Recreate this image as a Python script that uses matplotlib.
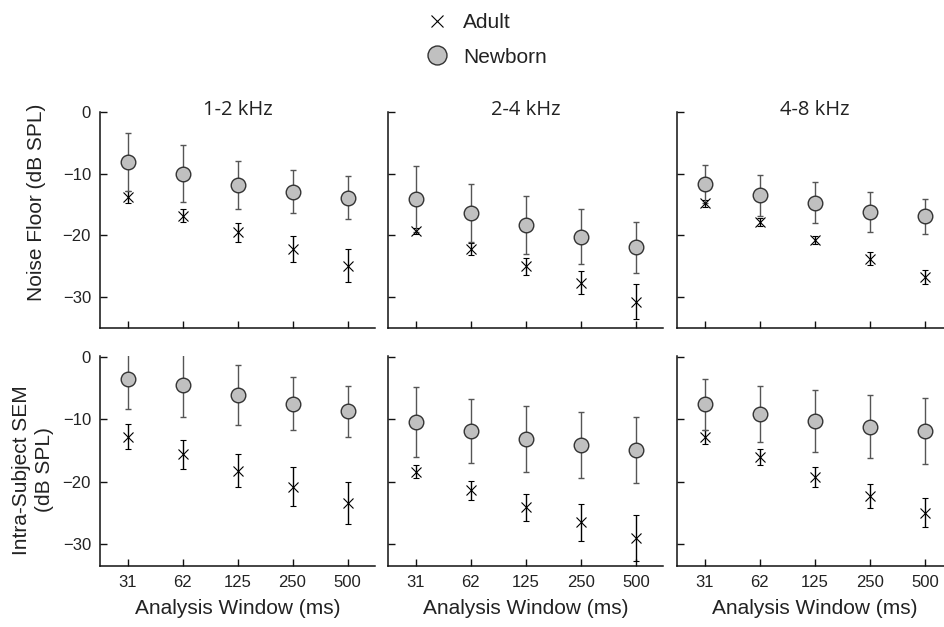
import numpy as np
import matplotlib
matplotlib.use("Agg")
import matplotlib.pyplot as plt

plt.rcParams['font.family'] = ['Liberation Sans', 'DejaVu Sans']

# analysis windows (ms) and frequency bands
windows = ["31", "62", "125", "250", "500"]
bands = ["1-2 kHz", "2-4 kHz", "4-8 kHz"]

# Noise floor (dB SPL): mean and error per band
nf_newborn = [[-8.1, -10.0, -11.8, -12.9, -13.9],
              [-14.1, -16.4, -18.3, -20.2, -21.9],
              [-11.7, -13.5, -14.7, -16.2, -16.9]]
nf_newborn_err = [[4.7, 4.6, 3.9, 3.4, 3.5],
                  [5.3, 4.7, 4.7, 4.4, 4.1],
                  [3.1, 3.3, 3.3, 3.2, 2.8]]
nf_adult = [[-13.8, -16.8, -19.5, -22.2, -24.9],
            [-19.3, -22.2, -25.0, -27.6, -30.7],
            [-14.8, -17.8, -20.7, -23.8, -26.7]]
nf_adult_err = [[1.0, 1.1, 1.55, 2.1, 2.65],
                [0.45, 1.0, 1.35, 1.9, 2.85],
                [0.6, 0.7, 0.6, 1.05, 1.15]]

# Intra-subject SEM (dB SPL)
sem_newborn = [[-3.6, -4.5, -6.1, -7.5, -8.7],
               [-10.5, -11.9, -13.2, -14.15, -14.95],
               [-7.6, -9.2, -10.3, -11.2, -11.85]]
sem_newborn_err = [[4.75, 5.2, 4.8, 4.3, 4.1],
                   [5.6, 5.2, 5.25, 5.25, 5.35],
                   [4.1, 4.5, 4.9, 5.1, 5.3]]
sem_adult = [[-12.8, -15.65, -18.25, -20.8, -23.4],
             [-18.4, -21.4, -24.15, -26.55, -29.1],
             [-12.9, -16.1, -19.3, -22.3, -25.0]]
sem_adult_err = [[1.95, 2.3, 2.7, 3.05, 3.35],
                 [1.1, 1.5, 2.15, 3.0, 3.7],
                 [1.15, 1.3, 1.55, 1.9, 2.35]]

W, H = 944, 627
fig = plt.figure(figsize=(W / 100, H / 100), dpi=100)

lefts = [100, 388.3, 677.3]
ax_w = 275
rows = [(111.7, 328.3, (-35, 0)), (356.2, 565.7, (-33.5, 0.1))]
data = [(nf_newborn, nf_newborn_err, nf_adult, nf_adult_err),
        (sem_newborn, sem_newborn_err, sem_adult, sem_adult_err)]

txt = '#222222'
x = np.arange(1, len(windows) + 1)
axes = []
for r, (top, bot, ylim) in enumerate(rows):
    nb, nbe, ad, ade = data[r]
    for c in range(3):
        ax = fig.add_axes([lefts[c] / W, 1 - bot / H, ax_w / W, (bot - top) / H])
        axes.append(ax)
        ax.errorbar(x, ad[c], yerr=ade[c], fmt='x', ms=7, mew=0.8, color='black',
                    ecolor='black', elinewidth=1.0, capsize=2.5, capthick=1.0,
                    label='Adult')
        ax.errorbar(x, nb[c], yerr=nbe[c], fmt='o', ms=10.5, mfc='#c0c0c0',
                    mec='#333333', mew=1.0, ecolor='#555555', elinewidth=1.0,
                    capsize=2.5, capthick=1.0, label='Newborn')
        ax.set_xlim(0.5, 5.5)
        ax.set_ylim(*ylim)
        ax.set_yticks([0, -10, -20, -30])
        ax.set_xticks(x)
        for s in ['top', 'right']:
            ax.spines[s].set_visible(False)
        for s in ['left', 'bottom']:
            ax.spines[s].set_linewidth(1.1)
            ax.spines[s].set_color('#111111')
        ax.tick_params(direction='in', length=5, width=1.0, labelsize=12,
                       labelcolor=txt, pad=6.5, color='#111111')
        if c == 0:
            ax.set_yticklabels(['0', '\u221210', '\u221220', '\u221230'])
        else:
            ax.set_yticklabels([])
        if r == 0:
            ax.set_xticklabels([])
            ax.text(0.5, 1.01, bands[c], transform=ax.transAxes, ha='center',
                    va='center', fontsize=14.5, color=txt, family=['Open Sans', 'DejaVu Sans'])
        else:
            ax.set_xticklabels(windows)
            ax.set_xlabel('Analysis Window (ms)', fontsize=15, color=txt, labelpad=7)

fig.text(37 / W, 1 - 202 / H, 'Noise Floor (dB SPL)', rotation=90, ha='center',
         va='center', fontsize=15, color=txt)
fig.text(33 / W, 1 - 470 / H, 'Intra-Subject SEM\n(dB SPL)', rotation=90, ha='center',
         va='center', fontsize=15, color=txt, multialignment='center')

handles, labels = axes[0].get_legend_handles_labels()
handles = [h[0] for h in handles]
fig.legend(handles, labels, loc='upper left', bbox_to_anchor=(426.6 / W, 1 - 13 / H),
           frameon=False, fontsize=15, handlelength=1.0, handletextpad=0.75,
           borderpad=0, borderaxespad=0, labelspacing=0.75, labelcolor=txt,
           markerscale=1.3)

fig.savefig('out.png', dpi=100)
